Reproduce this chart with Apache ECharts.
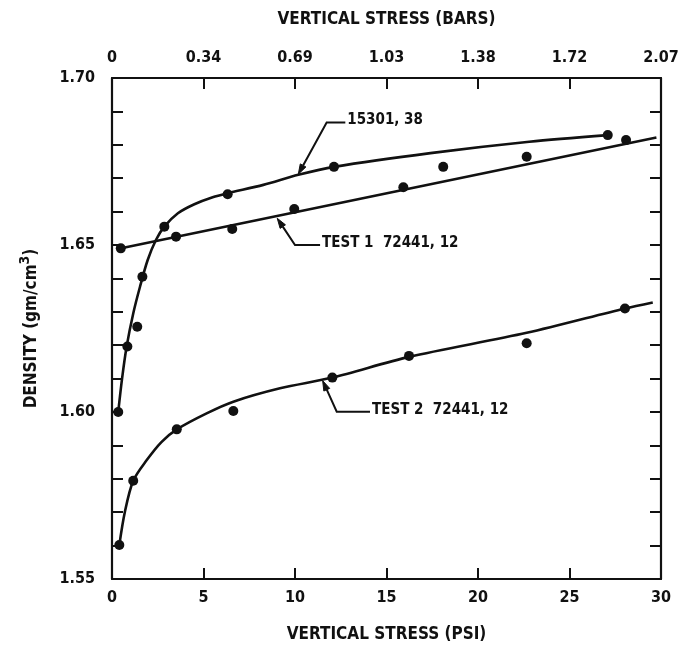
<!DOCTYPE html>
<html>
<head>
<meta charset="utf-8">
<script src="https://cdn.jsdelivr.net/npm/echarts@6/dist/echarts.min.js"></script>
<style>
  html, body { margin: 0; padding: 0; background: #fff; }
  #chart { width: 685px; height: 648px; }
</style>
</head>
<body>
<div id="chart"></div>
<script>
// Axis ticks
const psiTicks = [0, 5, 10, 15, 20, 25, 30];
const barLabels = ['0', '0.34', '0.69', '1.03', '1.38', '1.72', '2.07'];
const densityLabels = ['1.55', '1.60', '1.65', '1.70'];

// Measured densities (psi, gm/cm3)
const points15301 = [[0.34, 1.600], [0.84, 1.6196], [1.38, 1.6255], [1.66, 1.6405], [2.86, 1.6555], [6.32, 1.6652], [12.13, 1.6734], [27.09, 1.6829]];
const pointsTest1 = [[0.48, 1.649], [3.50, 1.6525], [6.57, 1.6548], [9.96, 1.6608], [15.92, 1.6673], [18.10, 1.6734], [22.66, 1.6764], [28.09, 1.6814]];
const pointsTest2 = [[0.40, 1.5602], [1.16, 1.5794], [3.54, 1.5948], [6.63, 1.6003], [12.04, 1.6103], [16.23, 1.6168], [22.66, 1.6206], [28.03, 1.6310]];

// Faired curves through each data set
const curve15301 = [[0.34, 1.600], [0.55, 1.610], [0.80, 1.6196], [1.16, 1.6295], [1.53, 1.6375], [1.95, 1.6455], [2.4, 1.6515], [2.86, 1.6555], [3.6, 1.6595], [4.5, 1.6622], [5.5, 1.6643], [6.32, 1.6655], [8.27, 1.668], [10.18, 1.671], [12.13, 1.6734], [17.4, 1.6775], [22.8, 1.6809], [27.09, 1.6829]];
const curveTest1 = [[0.3, 1.6488], [29.75, 1.6822]];
const curveTest2 = [[0.40, 1.5602], [0.7, 1.5700], [1.16, 1.5794], [1.90, 1.5856], [2.7, 1.5910], [3.54, 1.5948], [5.17, 1.5996], [6.63, 1.6031], [9.18, 1.6071], [12.04, 1.6103], [16.23, 1.6165], [22.66, 1.6237], [28.03, 1.6310], [29.55, 1.6328]];

// Curve callouts: arrow tip, bend, end of leader, text
const calloutNames = ['15301, 38', 'TEST 1  72441, 12', 'TEST 2  72441, 12'];
const calloutTips = [[10.18, 1.6712], [9.03, 1.6580], [11.51, 1.6094]];
const calloutBends = [[11.73, 1.6867], [10.0, 1.6500], [12.28, 1.6001]];
const calloutEnds = [[12.75, 1.6867], [11.37, 1.6500], [14.1, 1.6001]];

const FONT = '"DejaVu Sans Condensed", "Liberation Sans Narrow", sans-serif';
const INK = '#111';

const chart = echarts.init(document.getElementById('chart'), null, { renderer: 'canvas' });

const tickStyle = { show: true, inside: true, length: 11, lineStyle: { color: INK, width: 2 } };
const lineStyle = { show: true, onZero: false, lineStyle: { color: INK, width: 2.2 } };
const labelText = { color: INK, fontFamily: FONT, fontSize: 16, fontWeight: 'bold' };

function densityLabel(v) {
  const s = v.toFixed(2);
  return densityLabels.indexOf(s) >= 0 ? s : '';
}

function yAxis(pos, labels) {
  return {
    type: 'value', position: pos, min: 1.55, max: 1.70, interval: 0.01,
    axisLine: lineStyle,
    axisTick: tickStyle,
    splitLine: { show: false },
    axisLabel: Object.assign({ show: labels, margin: 17, formatter: densityLabel }, labelText),
    name: labels ? '{a|DENSITY (gm/cm}{s|3}{a|)}' : '',
    nameLocation: 'middle', nameGap: 72, nameRotate: 90,
    nameTextStyle: {
      rich: {
        a: { color: INK, fontFamily: FONT, fontSize: 17, fontWeight: 'bold', lineHeight: 22, verticalAlign: 'bottom' },
        s: { color: INK, fontFamily: FONT, fontSize: 14, fontWeight: 'bold', lineHeight: 22, verticalAlign: 'top' }
      }
    }
  };
}

chart.setOption({
  animation: false,
  backgroundColor: '#fff',
  grid: { left: 112, right: 24, top: 78, bottom: 69 },
  xAxis: [
    {
      type: 'value', position: 'bottom', min: 0, max: 30, interval: 5,
      axisLine: lineStyle, axisTick: tickStyle, splitLine: { show: false },
      axisLabel: Object.assign({ margin: 11 }, labelText),
      name: 'VERTICAL STRESS (PSI)', nameLocation: 'middle', nameGap: 47,
      nameTextStyle: { color: INK, fontFamily: FONT, fontSize: 17, fontWeight: 'bold' }
    },
    {
      type: 'value', position: 'top', min: 0, max: 30, interval: 5,
      axisLine: lineStyle, axisTick: tickStyle, splitLine: { show: false },
      axisLabel: Object.assign({ margin: 12, formatter: v => barLabels[psiTicks.indexOf(Math.round(v))] }, labelText),
      name: 'VERTICAL STRESS (BARS)', nameLocation: 'middle', nameGap: 50,
      nameTextStyle: { color: INK, fontFamily: FONT, fontSize: 17, fontWeight: 'bold' }
    }
  ],
  yAxis: [yAxis('left', true), yAxis('right', false)],
  series: [
    { type: 'line', data: curve15301, smooth: 0.3, showSymbol: false, lineStyle: { color: INK, width: 2.6 } },
    { type: 'line', data: curveTest1, showSymbol: false, lineStyle: { color: INK, width: 2.6 } },
    { type: 'line', data: curveTest2, smooth: 0.3, showSymbol: false, lineStyle: { color: INK, width: 2.6 } },
    { type: 'scatter', data: points15301, symbolSize: 10, itemStyle: { color: INK, opacity: 1 } },
    { type: 'scatter', data: pointsTest1, symbolSize: 10, itemStyle: { color: INK, opacity: 1 } },
    { type: 'scatter', data: pointsTest2, symbolSize: 10, itemStyle: { color: INK, opacity: 1 } }
  ]
});

// Leader lines with arrowheads and callout text, placed through the axes
function px(p) { return chart.convertToPixel({ xAxisIndex: 0, yAxisIndex: 0 }, p); }
const graphics = [];
calloutNames.forEach((name, i) => {
  const tip = px(calloutTips[i]);
  const bend = px(calloutBends[i]);
  const end = px(calloutEnds[i]);
  const dx = tip[0] - bend[0], dy = tip[1] - bend[1];
  const len = Math.hypot(dx, dy);
  const ux = dx / len, uy = dy / len;
  const headLen = 10, headHalf = 3.2;
  const base = [tip[0] - ux * headLen, tip[1] - uy * headLen];
  graphics.push({
    type: 'polyline', silent: true,
    shape: { points: [base, bend, end] },
    style: { stroke: INK, lineWidth: 2, fill: null }
  });
  graphics.push({
    type: 'polygon', silent: true,
    shape: { points: [tip, [base[0] - uy * headHalf, base[1] + ux * headHalf], [base[0] + uy * headHalf, base[1] - ux * headHalf]] },
    style: { fill: INK, stroke: INK, lineWidth: 1 }
  });
  graphics.push({
    type: 'text', silent: true,
    x: end[0] + 2, y: end[1] - 2,
    style: { text: name, fill: INK, font: 'bold 15px ' + FONT, textAlign: 'left', textVerticalAlign: 'middle' }
  });
});
chart.setOption({ graphic: graphics });
</script>
</body>
</html>
